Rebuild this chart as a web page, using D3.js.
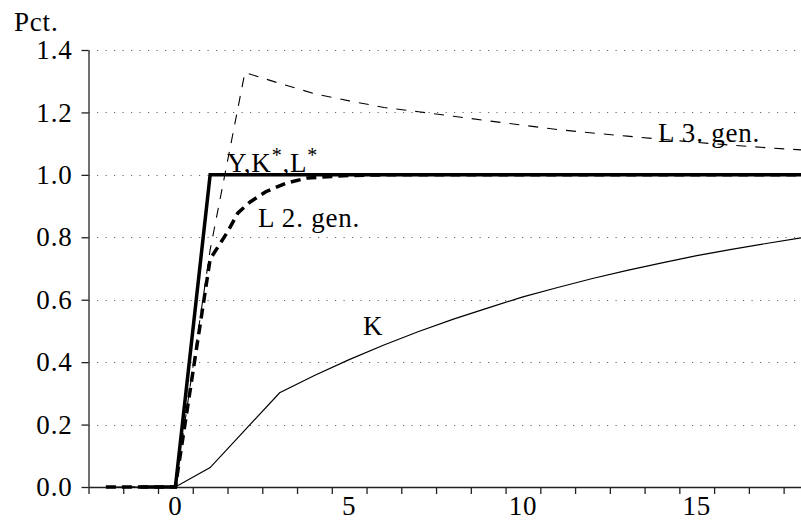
<!DOCTYPE html>
<html>
<head>
<meta charset="utf-8">
<script src="https://cdn.jsdelivr.net/npm/d3@7"></script>
<style>
  body { margin: 0; background: #fff; }
</style>
</head>
<body>
<div id="chart"></div>
<script>
// Chart dimensions
const w = 801;
const h = 520;
const padLeft = 88.5;
const padRight = 801;
const padTop = 50;
const padBottom = 487;
const fontSize = 27;
const spacing = "0.8px";
const serif = "'Liberation Serif', 'Times New Roman', Times, 'Nimbus Roman', 'Nimbus Roman No9 L', Tinos, FreeSerif, 'Noto Serif', 'DejaVu Serif', serif";

// Data
const years = [-2, -1, 0, 1, 2, 3, 4, 5, 6, 7, 8, 9, 10, 11, 12, 13, 14, 15, 16, 17, 18];
const yStar = [null, 0, 0, 1, 1, 1, 1, 1, 1, 1, 1, 1, 1, 1, 1, 1, 1, 1, 1, 1, 1];
const capital = [0, 0, 0, 0.062, 0.182, 0.302, 0.357, 0.408, 0.455, 0.498, 0.538, 0.574,
                 0.609, 0.639, 0.668, 0.694, 0.718, 0.741, 0.761, 0.780, 0.798];
const labor3 = [0, 0, 0, 0.76, 1.328, 1.293, 1.260, 1.237, 1.216, 1.202, 1.188, 1.173,
                1.159, 1.145, 1.134, 1.124, 1.114, 1.104, 1.095, 1.087, 1.080];
// 2nd generation labour has a finer grid around the bend
const labor2Years = [-2, -1, 0, 1, 1.5, 1.8, 2.15, 2.6, 3.2, 3.8, 4.5, 5, 6, 18];
const labor2 = [0, 0, 0, 0.73, 0.817, 0.878, 0.913, 0.946, 0.974, 0.99, 0.995, 0.998, 1, 1];

// Axis ticks and labels
const yTicks = [0, 0.2, 0.4, 0.6, 0.8, 1.0, 1.2, 1.4];
const xLabels = [0, 5, 10, 15];
const xMinor = [-2.5, -1.5, -0.5, 0.5, 1.5, 2.5, 3.5, 4.5, 5.5, 6.5, 7.5, 8.5, 9.5,
                10.5, 11.5, 12.5, 13.5, 14.5, 15.5, 16.5, 17.5];

// Scales
const xScale = d3.scaleLinear().domain([-2.5, 18]).range([padLeft, padRight]);
const yScale = d3.scaleLinear().domain([0, 1.4]).range([padBottom, padTop]);

const svg = d3.select("#chart")
              .append("svg")
              .attr("width", w)
              .attr("height", h)
              .style("font-family", serif);

// Dotted gridlines
svg.append("g")
   .selectAll("line")
   .data(yTicks.filter(d => d > 0))
   .enter()
   .append("line")
   .attr("x1", padLeft)
   .attr("x2", padRight)
   .attr("y1", d => Math.round(yScale(d)) + 0.5)
   .attr("y2", d => Math.round(yScale(d)) + 0.5)
   .attr("stroke", "#666")
   .attr("stroke-width", 1)
   .attr("stroke-dasharray", "1.2,7.3");

// Axes
const yAxis = d3.axisLeft(yScale)
                .tickValues(yTicks)
                .tickFormat(d3.format(".1f"))
                .tickSize(7)
                .tickSizeOuter(0)
                .tickPadding(9);

const xAxis = d3.axisBottom(xScale)
                .tickValues(xMinor)
                .tickFormat("")
                .tickSize(7)
                .tickSizeOuter(0);

const gy = svg.append("g")
              .attr("transform", "translate(" + padLeft + ",0)")
              .call(yAxis)
              .attr("font-family", null)
              .attr("font-size", null);

const gx = svg.append("g")
              .attr("transform", "translate(0," + padBottom + ")")
              .call(xAxis);

[gx, gy].forEach(g => {
  g.select(".domain").attr("stroke", "#222").attr("stroke-width", 1.3);
  g.selectAll(".tick line").attr("stroke", "#222").attr("stroke-width", 1.3);
});

gy.selectAll(".tick text")
  .attr("fill", "#000")
  .style("font-family", serif)
  .style("font-size", fontSize + "px")
  .style("letter-spacing", spacing);

// X labels (no tick under them)
svg.append("g")
   .selectAll("text")
   .data(xLabels)
   .enter()
   .append("text")
   .attr("x", d => xScale(d))
   .attr("y", 515)
   .attr("text-anchor", "middle")
   .style("font-family", serif)
   .style("font-size", fontSize + "px")
   .style("letter-spacing", spacing)
   .text(d => d);

// Lines
const line = d3.line()
               .defined(d => d[1] !== null)
               .x(d => xScale(d[0]))
               .y(d => yScale(d[1]));

function zip(xs, ys) { return xs.map((x, i) => [x, ys[i]]); }

svg.append("path")
   .datum(zip(years, capital))
   .attr("d", line)
   .attr("fill", "none")
   .attr("stroke", "#000")
   .attr("stroke-width", 1.2);

svg.append("path")
   .datum(zip(years, labor3))
   .attr("d", line)
   .attr("fill", "none")
   .attr("stroke", "#000")
   .attr("stroke-width", 1.1)
   .attr("stroke-dasharray", "10,9");

svg.append("path")
   .datum(zip(years, yStar))
   .attr("d", line)
   .attr("fill", "none")
   .attr("stroke", "#000")
   .attr("stroke-width", 3.5)
   .attr("stroke-linejoin", "miter");

svg.append("path")
   .datum(zip(labor2Years, labor2))
   .attr("d", line)
   .attr("fill", "none")
   .attr("stroke", "#000")
   .attr("stroke-width", 3.5)
   .attr("stroke-dasharray", "10,6");

// Labels
function label(x, y, txt) {
  return svg.append("text")
            .attr("x", x)
            .attr("y", y)
            .style("font-family", serif)
            .style("font-size", fontSize + "px")
            .style("letter-spacing", spacing)
            .text(txt);
}

label(14, 31, "Pct.");

const ykl = label(227, 172, null);
ykl.append("tspan").text("Y,K");
ykl.append("tspan").attr("dy", -10).style("font-size", "20px").text("*");
ykl.append("tspan").attr("dy", 10).text(",L");
ykl.append("tspan").attr("dy", -10).style("font-size", "20px").text("*");

label(258, 227, "L 2. gen.");
label(658, 142, "L 3. gen.");
label(363, 335, "K");
</script>
</body>
</html>
